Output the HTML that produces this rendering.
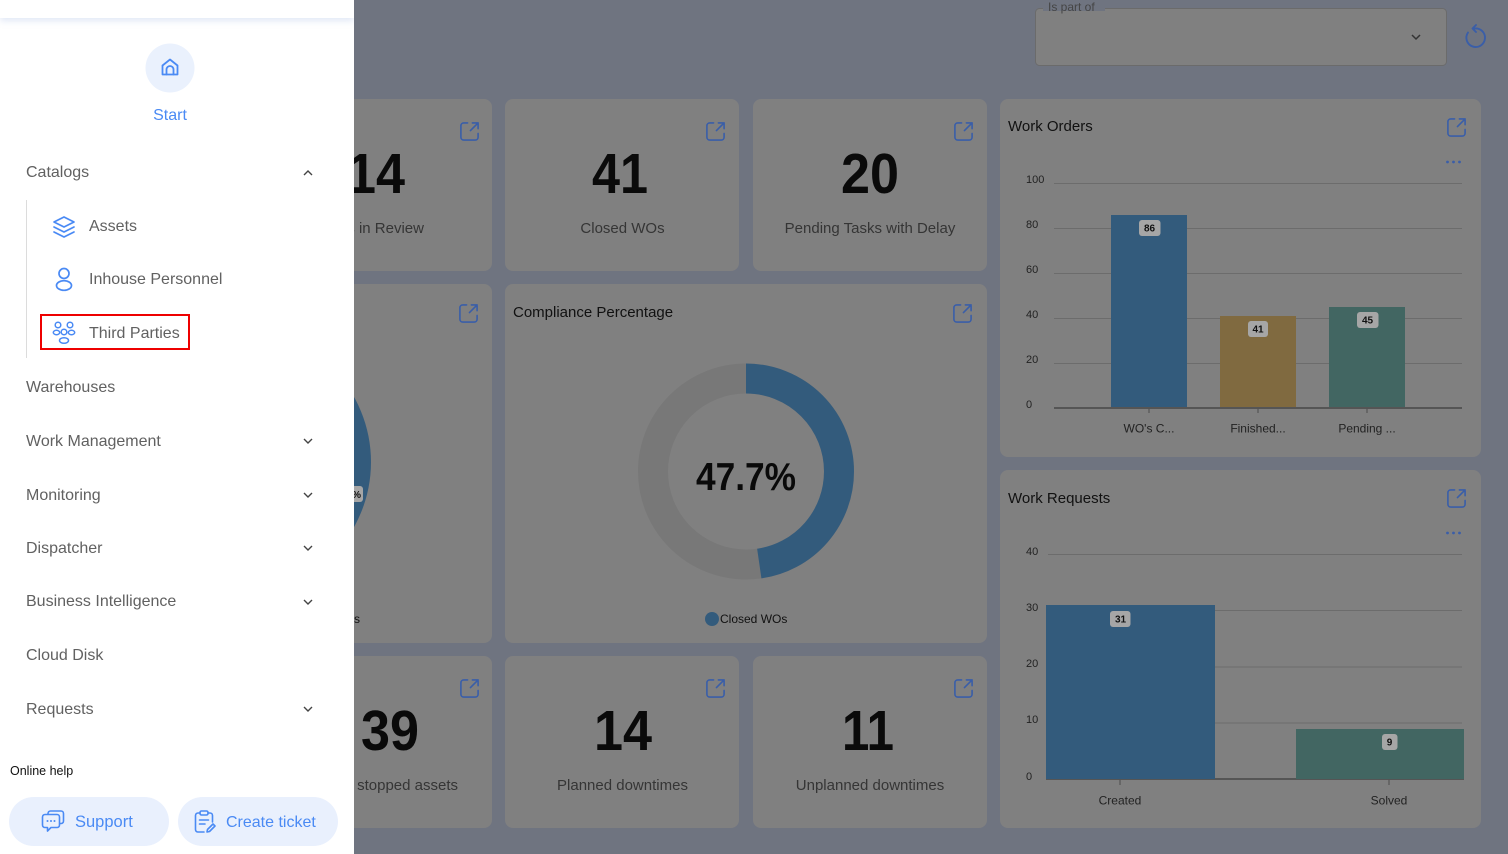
<!DOCTYPE html>
<html><head><meta charset="utf-8">
<style>
*{margin:0;padding:0;box-sizing:border-box}
html,body{width:1508px;height:854px;overflow:hidden;background:#6f7480;font-family:"Liberation Sans",Arial,sans-serif}
#dash{position:absolute;left:0;top:0}
#side{position:absolute;left:0;top:0;width:354px;height:854px;background:#fff;overflow:hidden}
.topbar{position:absolute;left:0;top:0;width:354px;height:18px;background:#fff;box-shadow:0 3px 7px rgba(170,190,230,0.35)}
.it{position:absolute;left:26px;font-size:16px;color:#616161;line-height:20px;height:20px;white-space:nowrap}
.sub{left:89px}
.chev{position:absolute;left:303px;width:10px;height:6px}
.ico{position:absolute}
.btn{position:absolute;top:797px;height:49px;border-radius:25px;background:#e9f0fd;color:#4a8af4;font-size:16.5px;line-height:49px;white-space:nowrap}
</style></head>
<body>
<svg id="dash" width="1508" height="854" viewBox="0 0 1508 854" font-family="Liberation Sans, Arial, sans-serif">
<defs>
<symbol id="op" viewBox="0 0 22 22"><g fill="none" stroke="#3a5ea8" stroke-width="1.7" stroke-linecap="round" stroke-linejoin="round"><path d="M9 2H5a3 3 0 0 0-3 3v12a3 3 0 0 0 3 3h12a3 3 0 0 0 3-3v-4"/><path d="M12 10L20 2M14 2h6v6"/></g></symbol>
</defs>
<rect width="1508" height="854" fill="#6f7480"/>

<!-- select -->
<rect x="1035.5" y="8.5" width="411" height="57" rx="4" fill="#808080" stroke="#6b6b6b"/>
<rect x="1043" y="5" width="62" height="6" fill="#6f7480"/>
<text x="1048" y="11" font-size="12" fill="#454545">Is part of</text>
<polyline points="1412,35 1416,39 1420,35" fill="none" stroke="#333" stroke-width="1.5"/>
<g fill="none" stroke="#3a5ea8" stroke-width="1.9" stroke-linecap="round" stroke-linejoin="round">
<path d="M1474.5 28.5 A9.3 9.3 0 1 1 1468 32.5"/>
<path d="M1476 25 L1472.5 28.5 L1476 32"/>
</g>

<!-- row 1 cards -->
<rect x="258" y="99" width="234" height="172" rx="8" fill="#808080"/>
<rect x="505" y="99" width="234" height="172" rx="8" fill="#808080"/>
<rect x="753" y="99" width="234" height="172" rx="8" fill="#808080"/>
<use href="#op" x="459" y="121" width="21" height="21"/>
<use href="#op" x="705" y="121" width="21" height="21"/>
<use href="#op" x="953" y="121" width="21" height="21"/>
<text x="405" y="193" font-size="57" font-weight="bold" fill="#0a0a0a" text-anchor="end" textLength="58" lengthAdjust="spacingAndGlyphs">14</text>
<text x="424" y="233" font-size="15" fill="#353535" text-anchor="end">WOs in Review</text>
<text x="620" y="193" font-size="57" font-weight="bold" fill="#0a0a0a" text-anchor="middle" textLength="56" lengthAdjust="spacingAndGlyphs">41</text>
<text x="622.5" y="233" font-size="15" fill="#353535" text-anchor="middle">Closed WOs</text>
<text x="870" y="193" font-size="57" font-weight="bold" fill="#0a0a0a" text-anchor="middle" textLength="58" lengthAdjust="spacingAndGlyphs">20</text>
<text x="870" y="233" font-size="15" fill="#353535" text-anchor="middle">Pending Tasks with Delay</text>

<!-- row 2 left partial -->
<rect x="258" y="284" width="234" height="359" rx="8" fill="#808080"/>
<use href="#op" x="458" y="303" width="21" height="21"/>
<circle cx="238" cy="462" r="133" fill="#335b7c"/>
<rect x="340" y="486" width="23" height="16" rx="3" fill="#a6a6a6"/>
<text x="361" y="498" font-size="10" font-weight="bold" fill="#111" text-anchor="end">%</text>
<text x="360" y="623" font-size="12" fill="#111" text-anchor="end">WOs</text>

<!-- compliance -->
<rect x="505" y="284" width="482" height="359" rx="8" fill="#808080"/>
<use href="#op" x="952" y="303" width="21" height="21"/>
<text x="513" y="317" font-size="15" fill="#111">Compliance Percentage</text>
<circle cx="746" cy="471.5" r="93" fill="none" stroke="#787878" stroke-width="30"/>
<circle cx="746" cy="471.5" r="93" fill="none" stroke="#335b7c" stroke-width="30" stroke-dasharray="278.7 600" transform="rotate(-90 746 471.5)"/>
<text x="746" y="490" font-size="39" font-weight="bold" fill="#0a0a0a" text-anchor="middle" textLength="100" lengthAdjust="spacingAndGlyphs">47.7%</text>
<circle cx="712" cy="619" r="7" fill="#335b7c"/>
<text x="720" y="623" font-size="12" fill="#111">Closed WOs</text>

<!-- row 3 -->
<rect x="258" y="656" width="234" height="172" rx="8" fill="#808080"/>
<rect x="505" y="656" width="234" height="172" rx="8" fill="#808080"/>
<rect x="753" y="656" width="234" height="172" rx="8" fill="#808080"/>
<use href="#op" x="459" y="678" width="21" height="21"/>
<use href="#op" x="705" y="678" width="21" height="21"/>
<use href="#op" x="953" y="678" width="21" height="21"/>
<text x="390" y="750" font-size="57" font-weight="bold" fill="#0a0a0a" text-anchor="middle" textLength="58" lengthAdjust="spacingAndGlyphs">39</text>
<text x="458" y="790" font-size="15" fill="#353535" text-anchor="end">Total stopped assets</text>
<text x="623" y="750" font-size="57" font-weight="bold" fill="#0a0a0a" text-anchor="middle" textLength="58" lengthAdjust="spacingAndGlyphs">14</text>
<text x="622.5" y="790" font-size="15" fill="#353535" text-anchor="middle">Planned downtimes</text>
<text x="868" y="750" font-size="57" font-weight="bold" fill="#0a0a0a" text-anchor="middle" textLength="52" lengthAdjust="spacingAndGlyphs">11</text>
<text x="870" y="790" font-size="15" fill="#353535" text-anchor="middle">Unplanned downtimes</text>

<!-- Work Orders -->
<rect x="1000" y="99" width="481" height="358" rx="8" fill="#808080"/>
<text x="1008" y="131" font-size="15" fill="#111">Work Orders</text>
<use href="#op" x="1446" y="117" width="21" height="21"/>
<g fill="#3a5ea8"><circle cx="1447.5" cy="162" r="1.4"/><circle cx="1453.5" cy="162" r="1.4"/><circle cx="1459.5" cy="162" r="1.4"/></g>
<g font-size="11" fill="#222">
<text x="1026" y="183">100</text><text x="1026" y="228">80</text><text x="1026" y="273">60</text><text x="1026" y="318">40</text><text x="1026" y="363">20</text><text x="1026" y="408">0</text>
</g>
<g stroke="#6c6c6c" stroke-width="1">
<line x1="1054" y1="183.5" x2="1462" y2="183.5"/><line x1="1054" y1="228.5" x2="1462" y2="228.5"/><line x1="1054" y1="273.5" x2="1462" y2="273.5"/><line x1="1054" y1="318.5" x2="1462" y2="318.5"/><line x1="1054" y1="363.5" x2="1462" y2="363.5"/>
</g>
<rect x="1111" y="215" width="76" height="193" fill="#335b7c"/>
<rect x="1220" y="316" width="76" height="92" fill="#806a40"/>
<rect x="1329" y="307" width="76" height="101" fill="#426662"/>
<line x1="1054" y1="408" x2="1462" y2="408" stroke="#555" stroke-width="2"/>
<g stroke="#555" stroke-width="1.2"><line x1="1149" y1="408" x2="1149" y2="413"/><line x1="1258" y1="408" x2="1258" y2="413"/><line x1="1367" y1="408" x2="1367" y2="413"/></g>
<g fill="#a6a6a6"><rect x="1139" y="220" width="21.5" height="16" rx="3"/><rect x="1248" y="321" width="20" height="16" rx="3"/><rect x="1357" y="312" width="21.5" height="16" rx="3"/></g>
<g font-size="10" font-weight="bold" fill="#111" text-anchor="middle">
<text x="1149.5" y="231.5">86</text><text x="1258" y="332.5">41</text><text x="1367.5" y="323.5">45</text>
</g>
<g font-size="12" fill="#222" text-anchor="middle">
<text x="1149" y="432.5">WO's C...</text><text x="1258" y="432.5">Finished...</text><text x="1367" y="432.5">Pending ...</text>
</g>

<!-- Work Requests -->
<rect x="1000" y="470" width="481" height="358" rx="8" fill="#808080"/>
<text x="1008" y="503" font-size="15" fill="#111">Work Requests</text>
<use href="#op" x="1446" y="488" width="21" height="21"/>
<g fill="#3a5ea8"><circle cx="1447.5" cy="533" r="1.4"/><circle cx="1453.5" cy="533" r="1.4"/><circle cx="1459.5" cy="533" r="1.4"/></g>
<g font-size="11" fill="#222">
<text x="1026" y="555">40</text><text x="1026" y="611">30</text><text x="1026" y="667">20</text><text x="1026" y="723">10</text><text x="1026" y="780">0</text>
</g>
<g stroke="#6c6c6c" stroke-width="1">
<line x1="1048" y1="554.5" x2="1462" y2="554.5"/><line x1="1048" y1="610.5" x2="1462" y2="610.5"/><line x1="1048" y1="667" x2="1462" y2="667"/><line x1="1048" y1="723" x2="1462" y2="723"/>
</g>
<line x1="1046" y1="779" x2="1464" y2="779" stroke="#555" stroke-width="2"/>
<rect x="1046" y="605" width="169" height="174" fill="#335b7c"/>
<rect x="1296" y="729" width="168" height="50" fill="#426662"/>
<g stroke="#555" stroke-width="1.2"><line x1="1120" y1="779" x2="1120" y2="785"/><line x1="1389" y1="779" x2="1389" y2="785"/></g>
<g fill="#a6a6a6"><rect x="1110" y="611" width="20.5" height="16" rx="3"/><rect x="1382" y="734" width="15.5" height="16" rx="3"/></g>
<g font-size="10" font-weight="bold" fill="#111" text-anchor="middle">
<text x="1120.5" y="622.5">31</text><text x="1389.5" y="745.5">9</text>
</g>
<g font-size="12" fill="#222" text-anchor="middle">
<text x="1120" y="804.5">Created</text><text x="1389" y="804.5">Solved</text>
</g>
</svg>

<div id="side">
  <div class="topbar"></div>
  <svg class="ico" style="left:145px;top:43px" width="50" height="50" viewBox="0 0 50 50">
    <circle cx="25" cy="25" r="24.5" fill="#eaf1fd"/>
    <g fill="none" stroke="#4a8af4" stroke-width="1.8" stroke-linejoin="round" stroke-linecap="round">
      <path d="M17.5 31.5 V22.5 L25 16.5 L32.5 22.5 V31.5 Z"/>
      <path d="M21.5 31.5 V26.5 a3.5 3.5 0 0 1 7 0 V31.5"/>
    </g>
  </svg>
  <div style="position:absolute;left:0;width:340px;top:106px;text-align:center;font-size:16px;color:#4a8af4;line-height:20px">Start</div>

  <div class="it" style="top:163px">Catalogs</div>
  <svg class="chev" style="top:170px" viewBox="0 0 10 6"><polyline points="1,5 5,1 9,5" fill="none" stroke="#444" stroke-width="1.4"/></svg>
  <div style="position:absolute;left:26px;top:200px;width:1px;height:158px;background:#dcdcdc"></div>

  <svg class="ico" style="left:52px;top:215px" width="24" height="24" viewBox="0 0 24 24">
    <g fill="none" stroke="#4a8af4" stroke-width="1.7" stroke-linejoin="round" stroke-linecap="round">
      <path d="M12 2 L22 7 L12 12 L2 7 Z"/>
      <path d="M2 12 L12 17 L22 12"/>
      <path d="M2 17 L12 22 L22 17"/>
    </g>
  </svg>
  <div class="it sub" style="top:217px">Assets</div>

  <svg class="ico" style="left:53px;top:267px" width="22" height="25" viewBox="0 0 22 25">
    <g fill="none" stroke="#4a8af4" stroke-width="1.7">
      <circle cx="11" cy="6.5" r="5"/>
      <ellipse cx="11" cy="18.5" rx="7.5" ry="4.8"/>
    </g>
  </svg>
  <div class="it sub" style="top:270px">Inhouse Personnel</div>

  <div style="position:absolute;left:40px;top:314px;width:150px;height:36px;border:2px solid #ee0000"></div>
  <svg class="ico" style="left:52px;top:321px" width="24" height="24" viewBox="0 0 24 24">
    <g fill="none" stroke="#4a8af4" stroke-width="1.5">
      <circle cx="6" cy="4" r="2.8"/><circle cx="18" cy="4" r="2.8"/>
      <circle cx="12" cy="11" r="2.8"/>
      <ellipse cx="4.5" cy="11.5" rx="3.2" ry="2.2"/><ellipse cx="19.5" cy="11.5" rx="3.2" ry="2.2"/>
      <ellipse cx="12" cy="19.5" rx="4.5" ry="2.8"/>
    </g>
  </svg>
  <div class="it sub" style="top:324px">Third Parties</div>

  <div class="it" style="top:378px">Warehouses</div>
  <div class="it" style="top:432px">Work Management</div>
  <svg class="chev" style="top:438px" viewBox="0 0 10 6"><polyline points="1,1 5,5 9,1" fill="none" stroke="#444" stroke-width="1.4"/></svg>
  <div class="it" style="top:486px">Monitoring</div>
  <svg class="chev" style="top:492px" viewBox="0 0 10 6"><polyline points="1,1 5,5 9,1" fill="none" stroke="#444" stroke-width="1.4"/></svg>
  <div class="it" style="top:539px">Dispatcher</div>
  <svg class="chev" style="top:545px" viewBox="0 0 10 6"><polyline points="1,1 5,5 9,1" fill="none" stroke="#444" stroke-width="1.4"/></svg>
  <div class="it" style="top:592px">Business Intelligence</div>
  <svg class="chev" style="top:599px" viewBox="0 0 10 6"><polyline points="1,1 5,5 9,1" fill="none" stroke="#444" stroke-width="1.4"/></svg>
  <div class="it" style="top:646px">Cloud Disk</div>
  <div class="it" style="top:700px">Requests</div>
  <svg class="chev" style="top:706px" viewBox="0 0 10 6"><polyline points="1,1 5,5 9,1" fill="none" stroke="#444" stroke-width="1.4"/></svg>

  <div style="position:absolute;left:10px;top:763px;font-size:12.5px;color:#111;line-height:16px">Online help</div>

  <div class="btn" style="left:9px;width:160px">
    <svg style="position:absolute;left:32px;top:13px" width="24" height="23" viewBox="0 0 24 23">
      <g fill="none" stroke="#4a8af4" stroke-width="1.6" stroke-linejoin="round">
        <path d="M7 4 V3.5 a2.5 2.5 0 0 1 2.5-2.5 H20 a2.5 2.5 0 0 1 2.5 2.5 V11 a2.5 2.5 0 0 1-2.5 2.5 H19"/>
        <path d="M4 4.5 H16 a2.5 2.5 0 0 1 2.5 2.5 V15 a2.5 2.5 0 0 1-2.5 2.5 H10 L6.5 21 V17.5 H4 a2.5 2.5 0 0 1-2.5-2.5 V7 a2.5 2.5 0 0 1 2.5-2.5 Z"/>
      </g>
      <g fill="#4a8af4"><circle cx="6.5" cy="11" r="1"/><circle cx="10" cy="11" r="1"/><circle cx="13.5" cy="11" r="1"/></g>
    </svg>
    <span style="position:absolute;left:66px;top:1px">Support</span>
  </div>
  <div class="btn" style="left:178px;width:160px">
    <svg style="position:absolute;left:16px;top:13px" width="22" height="24" viewBox="0 0 22 24">
      <g fill="none" stroke="#4a8af4" stroke-width="1.6" stroke-linejoin="round" stroke-linecap="round">
        <path d="M6 3 H4 a2.5 2.5 0 0 0-2.5 2.5 V19.5 a2.5 2.5 0 0 0 2.5 2.5 H10"/>
        <path d="M14 3 H16 a2.5 2.5 0 0 1 2.5 2.5 V12"/>
        <rect x="6" y="1" width="8" height="4" rx="1.5"/>
        <path d="M5.5 10 H14.5 M5.5 14 H11"/>
        <path d="M13 22 L13.5 19.5 L19 14 L21 16 L15.5 21.5 Z"/>
      </g>
    </svg>
    <span style="position:absolute;left:48px;top:1px;font-size:16px">Create ticket</span>
  </div>
</div>
</body></html>
